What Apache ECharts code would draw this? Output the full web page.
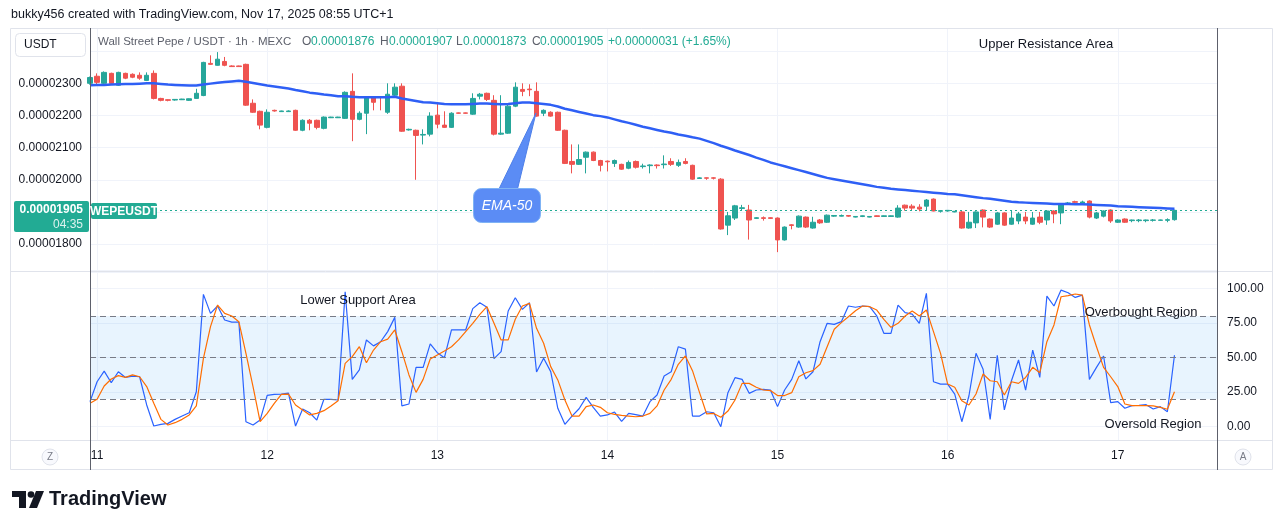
<!DOCTYPE html>
<html><head><meta charset="utf-8">
<script src="https://cdn.jsdelivr.net/npm/echarts@6/dist/echarts.min.js"></script>
<style>html,body{margin:0;padding:0;background:#fff}#c{width:1281px;height:530px}</style>
</head><body><div id="c"></div>
<script>
// Prices are stored in units of 1e-8 USDT
const PRICE_UNIT = 1e-8;
const startDay = 10, startHour = 23, totalSlots = 160;
const dayLabels = ['11','12','13','14','15','16','17'];
const priceHiddenLabels = [2400, 1900];
const stochLevels = [20, 50, 80];
const lastPrice = 1905;
const legendOHLC = ['0.00001876','0.00001907','0.00001873','0.00001905'];
const legendChange = '+0.00000031 (+1.65%)';

// [open, close, low, high]
const candles = [
[2300,2318,2296,2321],[2322,2303,2297,2331],[2300,2334,2297,2337],[2331,2300,2297,2333],[2294,2334,2292,2336],
[2331,2316,2313,2333],[2328,2319,2316,2331],[2325,2316,2311,2334],[2309,2325,2307,2334],[2331,2253,2250,2340],
[2253,2247,2244,2255],[2249,2247,2244,2250],[2248,2250,2246,2251],[2249,2251,2248,2252],[2247,2252,2245,2253],
[2253,2269,2252,2283],[2262,2365,2260,2367],[2362,2359,2357,2387],[2356,2375,2355,2397],[2368,2356,2353,2382],
[2354,2352,2351,2356],[2354,2352,2351,2355],[2359,2232,2230,2361],[2238,2210,2208,2250],[2213,2170,2157,2215],
[2163,2210,2160,2219],[2216,2214,2212,2218],[2212,2214,2211,2215],[2212,2214,2211,2216],[2216,2154,2152,2218],
[2154,2185,2151,2188],[2185,2176,2154,2189],[2185,2163,2157,2187],[2160,2195,2157,2197],[2193,2195,2192,2196],
[2193,2195,2192,2196],[2191,2272,2189,2275],[2275,2188,2120,2331],[2188,2207,2185,2213],[2207,2257,2142,2260],
[2257,2241,2216,2260],[2258,2256,2216,2260],[2210,2266,2205,2300],[2263,2288,2261,2300],[2291,2151,2149,2300],
[2155,2157,2153,2159],[2154,2138,2000,2156],[2139,2141,2110,2157],[2142,2198,2135,2210],[2201,2173,2160,2241],
[2170,2163,2161,2213],[2163,2207,2161,2210],[2208,2207,2206,2209],[2208,2207,2206,2209],[2204,2253,2202,2269],
[2260,2266,2250,2270],[2269,2250,2245,2271],[2247,2142,2138,2263],[2142,2145,2140,2263],[2145,2229,2143,2238],
[2229,2288,2226,2303],[2281,2275,2260,2300],[2282,2280,2260,2297],[2275,2198,2196,2303],[2207,2216,2198,2219],
[2210,2198,2196,2213],[2210,2154,2152,2212],[2154,2051,2049,2156],[2057,2048,2020,2110],[2048,2063,2046,2110],
[2070,2086,2020,2088],[2086,2060,2058,2088],[2060,2045,2026,2062],[2058,2056,2026,2060],[2051,2060,2040,2063],
[2048,2033,2031,2050],[2036,2054,2033,2060],[2057,2039,2035,2060],[2041,2043,2035,2050],[2044,2046,2020,2048],
[2046,2044,2035,2048],[2047,2049,2035,2076],[2057,2048,2043,2067],[2045,2054,2040,2063],[2057,2051,2048,2067],
[2045,2002,2000,2047],[2004,2006,2003,2008],[2006,2005,2000,2007],[2006,2005,2001,2008],[2002,1847,1845,2005],
[1859,1888,1828,1900],[1881,1919,1875,1922],[1911,1913,1905,1922],[1906,1875,1814,1922],[1880,1882,1878,1884],
[1882,1880,1873,1886],[1882,1880,1878,1883],[1881,1813,1775,1883],[1813,1853,1811,1855],[1860,1858,1846,1862],
[1853,1887,1851,1889],[1884,1853,1850,1886],[1850,1868,1848,1885],[1875,1866,1863,1878],[1868,1890,1866,1892],
[1887,1889,1885,1890],[1887,1889,1886,1892],[1889,1887,1885,1890],[1884,1886,1883,1887],[1886,1888,1884,1889],
[1884,1886,1883,1887],[1888,1886,1885,1889],[1886,1888,1885,1889],[1886,1888,1885,1889],[1884,1912,1882,1921],
[1921,1912,1904,1923],[1918,1912,1903,1924],[1915,1909,1902,1924],[1918,1937,1904,1940],[1940,1903,1902,1942],
[1902,1904,1898,1906],[1903,1905,1901,1906],[1900,1902,1899,1903],[1900,1850,1848,1903],[1850,1868,1848,1900],
[1866,1900,1850,1902],[1906,1884,1852,1908],[1878,1853,1850,1880],[1862,1897,1860,1900],[1897,1859,1857,1899],
[1862,1881,1860,1906],[1872,1894,1862,1900],[1884,1872,1862,1900],[1862,1881,1860,1900],[1884,1868,1862,1900],
[1875,1903,1860,1905],[1903,1894,1865,1905],[1897,1925,1862,1927],[1925,1928,1923,1931],[1932,1930,1926,1935],
[1925,1931,1923,1935],[1934,1884,1880,1936],[1881,1897,1878,1900],[1887,1903,1883,1905],[1906,1872,1866,1908],
[1868,1875,1866,1877],[1878,1868,1866,1880],[1873,1875,1868,1876],[1873,1875,1868,1878],[1873,1875,1868,1876],
[1874,1875,1870,1878],[1874,1875,1873,1876],[1874,1876,1868,1880],[1876,1905,1873,1907]
];

const ema50 = [
2294,2295,2295,2296,2297,2298,2298,2299,2300,2300,
2298,2296,2295,2294,2293,2293,2296,2299,2302,2304,
2306,2308,2305,2301,2297,2293,2290,2287,2284,2279,
2275,2271,2268,2265,2263,2260,2260,2258,2257,2257,
2257,2257,2257,2258,2253,2249,2245,2241,2240,2238,
2236,2235,2235,2235,2236,2237,2237,2236,2235,2236,
2238,2240,2240,2238,2236,2233,2228,2221,2216,2211,
2206,2201,2198,2194,2188,2182,2177,2171,2165,2160,
2155,2150,2146,2141,2137,2132,2128,2121,2114,2106,
2099,2091,2084,2077,2069,2062,2054,2048,2042,2036,
2030,2024,2018,2012,2006,2002,1998,1994,1990,1986,
1982,1978,1975,1972,1970,1968,1966,1964,1962,1960,
1958,1956,1955,1952,1949,1946,1943,1941,1938,1935,
1932,1930,1929,1928,1927,1926,1925,1925,1925,1924,
1924,1923,1922,1921,1920,1918,1917,1916,1915,1914,
1913,1912,1911,1910
];

const stochK = [
18.1,32.5,40.2,31.8,39.7,35.6,36.6,36.1,15.7,0.5,
1.7,2.4,5.3,7.7,10.1,25.3,95.6,81.9,87.2,77.1,
75.6,75.6,3.6,1.2,4.8,22.6,23.4,23.6,24.3,0.5,
12.8,10.1,4.8,19.8,19.8,19.3,97.5,34.2,41.0,62.7,
58.4,61.4,68.7,79.0,15.0,16.4,42.9,42.9,59.8,53.5,
49.9,69.9,69.9,69.9,85.3,89.6,86.3,49.2,54.2,83.6,
93.2,84.8,89.6,39.5,49.4,39.8,13.3,1.7,7.7,13.0,
21.2,14.0,7.7,8.5,10.6,3.9,9.6,8.7,7.7,18.1,
22.9,36.6,39.7,57.8,56.1,7.7,7.7,10.8,10.1,0.0,
24.6,35.4,34.2,24.1,26.5,27.0,26.5,14.5,26.5,34.2,
47.7,34.5,39.7,61.4,74.7,73.9,75.9,87.2,86.3,87.2,
86.7,80.0,67.5,67.5,87.9,82.4,81.4,74.7,96.4,32.5,
30.8,30.8,23.6,3.6,22.2,53.0,41.5,5.3,51.6,12.1,
33.2,48.2,26.5,55.4,35.6,94.4,87.2,98.7,96.8,93.4,
95.1,34.2,42.9,51.1,17.4,18.1,13.3,15.2,15.5,15.9,
12.8,14.5,10.8,51.6
];

const stochD = [
16.9,19.8,29.4,34.5,36.9,35.6,37.4,36.1,29.0,16.9,
5.3,1.2,2.9,5.3,8.5,15.0,49.4,72.3,87.9,81.9,
80.0,75.9,53.0,29.0,3.6,9.6,16.9,23.4,23.6,15.7,
12.1,8.5,9.6,11.6,15.0,18.8,45.8,50.6,57.8,46.2,
55.4,61.4,63.3,69.9,54.2,37.4,24.8,34.2,48.9,51.8,
54.7,57.8,62.7,68.7,74.7,81.2,86.7,74.7,62.7,62.7,
77.6,87.2,89.1,71.1,60.3,43.4,33.8,19.3,7.7,7.7,
14.5,15.7,14.0,10.1,8.9,8.2,7.7,7.2,7.7,9.6,
15.0,26.5,34.2,45.1,51.1,40.5,24.6,9.2,9.6,6.8,
11.3,19.3,31.3,31.3,28.5,26.5,26.1,22.5,22.5,24.6,
36.1,39.0,40.5,45.1,57.8,70.4,75.2,79.5,83.8,87.2,
86.7,84.3,77.6,71.8,74.7,80.0,83.6,80.0,84.3,68.7,
53.0,30.8,28.5,18.8,15.7,23.6,38.1,33.2,32.5,22.9,
32.5,31.3,35.6,42.9,39.0,61.4,73.5,93.9,94.7,95.9,
95.1,73.5,57.8,42.9,36.1,29.0,16.4,15.2,15.2,15.2,
15.0,14.0,12.6,25.3
];

// hourly category slots (candles + empty space on the right)
const cats = [];
for (let j = 0; j < totalSlots; j++) {
  const t = startHour + j;
  const day = startDay + Math.floor(t / 24), hh = t % 24;
  cats.push(day + ' ' + String(hh).padStart(2, '0') + ':00');
}
const isDayStart = (i) => cats[i] && cats[i].endsWith(' 00:00') && dayLabels.includes(cats[i].split(' ')[0]);

const FONT = "'Liberation Sans', Arial, sans-serif";
const UP = '#26a69a', DOWN = '#ef5350', GRIDC = '#f0f3fa', FRAME = '#e0e3eb', AXISC = '#5d606b', TXT = '#131722';

const chart = echarts.init(document.getElementById('c'), null, {renderer: 'canvas'});

function txt(text, x, y, opt) {
  opt = opt || {};
  return {type: 'text', z: opt.z || 50, style: Object.assign({
    text, x, y, fill: opt.fill || TXT, font: opt.font || ('12px ' + FONT),
    align: opt.align || 'left', textAlign: opt.align || 'left',
    verticalAlign: 'middle', textVerticalAlign: 'middle'
  }, opt.extra || {})};
}

const graphics = [
  // frame
  {type: 'rect', z: 40, shape: {x: 10.5, y: 28.5, width: 1262, height: 441, r: 0}, style: {fill: 'none', stroke: FRAME, lineWidth: 1}},
  {type: 'line', z: 41, shape: {x1: 10, y1: 271.5, x2: 1272, y2: 271.5}, style: {stroke: FRAME, lineWidth: 1}},
  {type: 'line', z: 41, shape: {x1: 10, y1: 440.5, x2: 1272, y2: 440.5}, style: {stroke: FRAME, lineWidth: 1}},
  {type: 'line', z: 42, shape: {x1: 90.5, y1: 28, x2: 90.5, y2: 470}, style: {stroke: AXISC, lineWidth: 1}},
  {type: 'line', z: 42, shape: {x1: 1217.5, y1: 28, x2: 1217.5, y2: 470}, style: {stroke: AXISC, lineWidth: 1}},
  // header
  txt('bukky456 created with TradingView.com, Nov 17, 2025 08:55 UTC+1', 11, 15, {font: '12.5px ' + FONT}),
  // USDT box
  {type: 'rect', z: 45, shape: {x: 15.5, y: 33.5, width: 70, height: 23, r: 4}, style: {fill: '#fff', stroke: FRAME, lineWidth: 1}},
  txt('USDT', 24, 45, {font: '12px ' + FONT}),
  // legend line
  txt('Wall Street Pepe / USDT · 1h · MEXC', 98, 42, {fill: '#5d606b', font: '11.5px ' + FONT}),
  txt('O', 302, 42, {fill: '#5d606b'}), txt(legendOHLC[0], 311, 42, {fill: '#22ab94'}),
  txt('H', 380, 42, {fill: '#5d606b'}), txt(legendOHLC[1], 389, 42, {fill: '#22ab94'}),
  txt('L', 456, 42, {fill: '#5d606b'}), txt(legendOHLC[2], 463, 42, {fill: '#22ab94'}),
  txt('C', 532, 42, {fill: '#5d606b'}), txt(legendOHLC[3], 540, 42, {fill: '#22ab94'}),
  txt(legendChange, 608, 42, {fill: '#22ab94'}),
  // annotations
  txt('Upper Resistance Area', 1046, 44, {align: 'center', font: '13px ' + FONT}),
  txt('Lower Support Area', 358, 300, {align: 'center', font: '13px ' + FONT}),
  txt('Overbought Region', 1141, 312, {align: 'center', font: '13px ' + FONT}),
  txt('Oversold Region', 1153, 424, {align: 'center', font: '13px ' + FONT}),
  // EMA-50 callout
  {type: 'polygon', z: 60, shape: {points: [[498, 191], [517, 191], [536, 113]]}, style: {fill: '#5b8cf5', stroke: '#4d7fe9', lineWidth: 1}},
  {type: 'rect', z: 61, shape: {x: 473.5, y: 188.5, width: 67, height: 34, r: 8}, style: {fill: '#5b8cf5', stroke: '#7fb3f5', lineWidth: 1}},
  txt('EMA-50', 507, 206, {align: 'center', fill: '#fff', font: 'italic 14px ' + FONT, z: 62}),
  // last price tag on left axis
  {type: 'rect', z: 70, shape: {x: 14, y: 201, width: 75, height: 31, r: 2}, style: {fill: '#22ab94'}},
  txt('0.00001905', 83, 210, {align: 'right', fill: '#fff', font: 'bold 12px ' + FONT, z: 71}),
  txt('04:35', 83, 225, {align: 'right', fill: 'rgba(255,255,255,0.85)', font: '12px ' + FONT, z: 71}),
  {type: 'rect', z: 70, shape: {x: 91, y: 203, width: 66, height: 16, r: 2}, style: {fill: '#22ab94'}},
  txt('WEPEUSDT', 124, 211.5, {align: 'center', fill: '#fff', font: 'bold 12px ' + FONT, z: 71}),
  // bottom buttons
  {type: 'circle', z: 45, shape: {cx: 50, cy: 457, r: 8}, style: {fill: '#f8f9fd', stroke: FRAME}},
  txt('Z', 50, 457, {align: 'center', fill: '#787b86', font: '10px ' + FONT}),
  {type: 'circle', z: 45, shape: {cx: 1243, cy: 457, r: 8}, style: {fill: '#f8f9fd', stroke: FRAME}},
  txt('A', 1243, 457, {align: 'center', fill: '#787b86', font: '10px ' + FONT}),
  // TradingView logo
  {type: 'polygon', z: 45, shape: {points: [[12, 491], [26, 491], [26, 508], [19, 508], [19, 497], [12, 497]]}, style: {fill: TXT}},
  {type: 'circle', z: 45, shape: {cx: 31, cy: 494.5, r: 3.3}, style: {fill: TXT}},
  {type: 'polygon', z: 45, shape: {points: [[36, 491], [44, 491], [37, 508], [29, 508]]}, style: {fill: TXT}},
  txt('TradingView', 49, 499, {font: 'bold 20px ' + FONT})
];

const option = {
  animation: false,
  backgroundColor: '#ffffff',
  textStyle: {fontFamily: FONT},
  grid: [
    {left: 90, width: 1127, top: 28, height: 242},
    {left: 90, width: 1127, top: 272, height: 168}
  ],
  xAxis: [
    {gridIndex: 0, type: 'category', data: cats, boundaryGap: false,
      axisLine: {show: false}, axisTick: {show: false}, axisLabel: {show: false},
      splitLine: {show: true, interval: (i) => isDayStart(i), lineStyle: {color: GRIDC}}},
    {gridIndex: 1, type: 'category', data: cats, boundaryGap: false,
      axisLine: {show: false}, axisTick: {show: false},
      axisLabel: {interval: (i) => isDayStart(i), formatter: (v) => v.split(' ')[0], color: TXT, fontSize: 12, margin: 10, fontFamily: FONT},
      splitLine: {show: true, interval: (i) => isDayStart(i), lineStyle: {color: GRIDC}}}
  ],
  yAxis: [
    {gridIndex: 0, type: 'value', position: 'left', min: 1719.5, max: 2472, splitNumber: 7, minInterval: 100, maxInterval: 100,
      axisLine: {show: false}, axisTick: {show: false},
      axisLabel: {color: TXT, fontSize: 12, margin: 8, fontFamily: FONT, showMinLabel: false, showMaxLabel: false,
        formatter: (v) => priceHiddenLabels.includes(Math.round(v)) ? '' : (v * PRICE_UNIT).toFixed(8)},
      splitLine: {show: true, lineStyle: {color: GRIDC}}},
    {gridIndex: 1, type: 'value', position: 'right', min: -9.61, max: 111.78, splitNumber: 5, minInterval: 25, maxInterval: 25,
      axisLine: {show: false}, axisTick: {show: false},
      axisLabel: {color: TXT, fontSize: 12, margin: 10, fontFamily: FONT, showMinLabel: false, showMaxLabel: false,
        formatter: (v) => v.toFixed(2)},
      splitLine: {show: true, lineStyle: {color: GRIDC}}}
  ],
  series: [
    {type: 'candlestick', xAxisIndex: 0, yAxisIndex: 0, data: candles, barWidth: 5, z: 3,
      itemStyle: {color: UP, color0: DOWN, borderColor: UP, borderColor0: DOWN, borderWidth: 1},
      markLine: {silent: true, symbol: ['none', 'none'], label: {show: false},
        lineStyle: {color: '#22ab94', type: [2, 3], width: 1}, data: [{yAxis: lastPrice}]}},
    {type: 'line', xAxisIndex: 0, yAxisIndex: 0, data: ema50, showSymbol: false, symbol: 'none', z: 4,
      lineStyle: {color: '#2e5ff5', width: 2.5}},
    {type: 'line', xAxisIndex: 1, yAxisIndex: 1, data: stochK, showSymbol: false, symbol: 'none', z: 4,
      lineStyle: {color: '#2962ff', width: 1.2},
      markArea: {silent: true, itemStyle: {color: 'rgba(33,150,243,0.1)'}, data: [[{yAxis: stochLevels[0]}, {yAxis: stochLevels[2]}]]},
      markLine: {silent: true, symbol: ['none', 'none'], label: {show: false},
        lineStyle: {color: '#787b86', type: [6, 4], width: 1}, data: stochLevels.map(v => ({yAxis: v}))}},
    {type: 'line', xAxisIndex: 1, yAxisIndex: 1, data: stochD, showSymbol: false, symbol: 'none', z: 5,
      lineStyle: {color: '#ff6d00', width: 1.2}}
  ],
  graphic: graphics
};
chart.setOption(option);
</script>
</body></html>
